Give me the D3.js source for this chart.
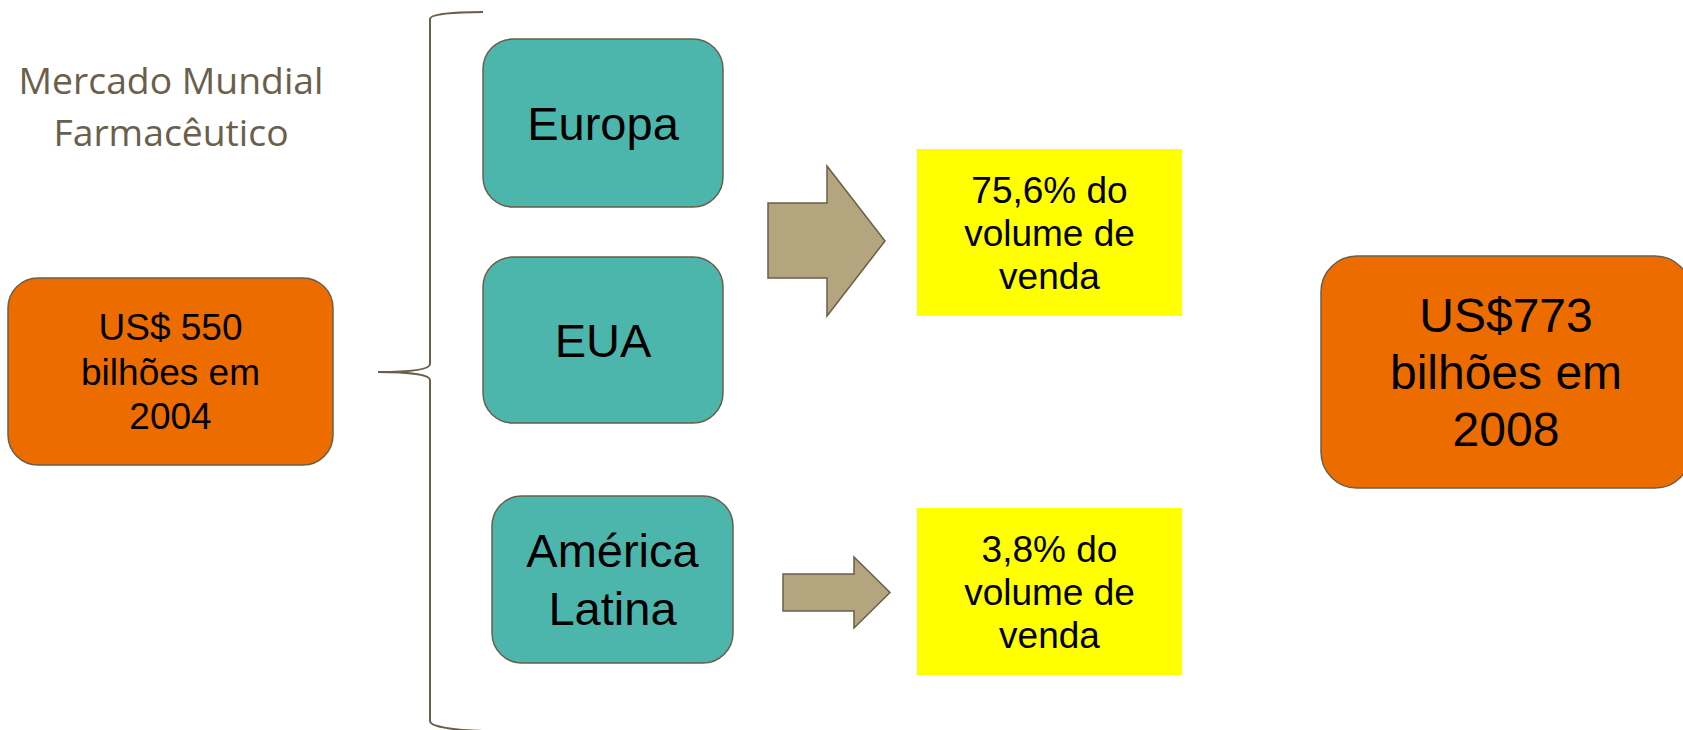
<!DOCTYPE html>
<html><head><meta charset="utf-8">
<script src="https://cdn.jsdelivr.net/npm/d3@7"></script>
<style>html,body{margin:0;padding:0;background:#fff;overflow:hidden}</style>
</head><body>
<svg id="c" width="1683" height="730"></svg>
<script>
// ---- data (texts) ----
const titleLines = ["Mercado Mundial", "Farmacêutico"];
const startLines = ["US$ 550", "bilhões em", "2004"];
const regions = [["Europa"], ["EUA"], ["América", "Latina"]];
const shareLines = [["75,6% do", "volume de", "venda"], ["3,8% do", "volume de", "venda"]];
const endLines = ["US$773", "bilhões em", "2008"];

// ---- layout ----
const C = {orange:"#ED6C00", teal:"#4DB6AC", yellow:"#FFFF00", tan:"#B3A57E", stroke:"#6B5E4A", title:"#6B5E4A"};
const svg = d3.select("#c");
const sans = "'Liberation Sans', Arial, sans-serif";

function box(x, y, w, h, r, fill, lines, fs, lh, stroke) {
  svg.append("rect").attr("x", x).attr("y", y).attr("width", w).attr("height", h)
    .attr("rx", r).attr("ry", r).attr("fill", fill)
    .attr("stroke", stroke ? C.stroke : "none").attr("stroke-width", 1.5);
  const cx = x + w / 2, cy = y + h / 2;
  const n = lines.length;
  const t = svg.append("text").attr("text-anchor", "middle").attr("font-family", sans)
    .attr("font-size", fs).attr("fill", "#000");
  lines.forEach((s, i) => {
    t.append("tspan").attr("x", cx)
      .attr("y", cy + (i - (n - 1) / 2) * lh + fs * 0.358).text(s);
  });
}

// title
const tt = svg.append("text").attr("text-anchor", "middle")
  .attr("font-family", "'Open Sans', sans-serif").attr("font-size", 37.3).attr("fill", C.title);
titleLines.forEach((s, i) => tt.append("tspan").attr("x", 171).attr("y", 94 + i * 52).text(s));

// start box
box(8, 278, 325, 187, 30, C.orange, startLines, 37, 44.5, true);

// brace
const brace = d3.path();
brace.moveTo(483, 12);
brace.bezierCurveTo(455, 12, 430, 14, 430, 19);
brace.lineTo(430, 364);
brace.bezierCurveTo(430, 370, 410, 372, 378, 372);
brace.moveTo(378, 372);
brace.bezierCurveTo(410, 372, 430, 375, 430, 380);
brace.lineTo(430, 721);
brace.bezierCurveTo(430, 727, 455, 730, 483, 731);
svg.append("path").attr("d", brace.toString()).attr("fill", "none")
  .attr("stroke", C.stroke).attr("stroke-width", 2);

// region boxes
const regionBoxes = [[483, 39, 240, 168], [483, 257, 240, 166], [492, 496, 241, 167]];
regions.forEach((lines, i) => {
  const b = regionBoxes[i];
  box(b[0], b[1], b[2], b[3], 30, C.teal, lines, 47, 58, true);
});

// arrows
function arrow(x0, st, sb, hx, ht, hb, tx) {
  const ty = (ht + hb) / 2;
  const p = d3.path();
  p.moveTo(x0, st); p.lineTo(hx, st); p.lineTo(hx, ht); p.lineTo(tx, ty);
  p.lineTo(hx, hb); p.lineTo(hx, sb); p.lineTo(x0, sb); p.closePath();
  svg.append("path").attr("d", p.toString()).attr("fill", C.tan)
    .attr("stroke", C.stroke).attr("stroke-width", 1.5);
}
arrow(768, 203, 278, 827, 166, 316, 885);
arrow(783, 574, 611, 854, 557, 628, 890);

// share boxes
box(917, 149, 265, 167, 0, C.yellow, shareLines[0], 37, 43, false);
box(917, 508, 265, 167, 0, C.yellow, shareLines[1], 37, 43, false);

// end box
box(1321, 256, 370, 232, 36, C.orange, endLines, 48, 57, true);
</script>
</body></html>
